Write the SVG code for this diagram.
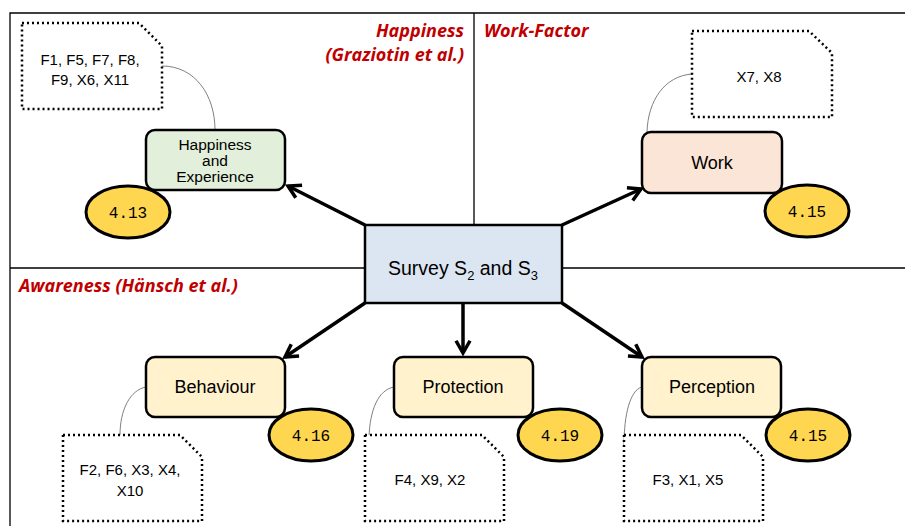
<svg xmlns="http://www.w3.org/2000/svg" width="905" height="526" viewBox="0 0 905 526">
<defs>
<style>
.frame{stroke:#000;stroke-width:1.3;fill:none}
.node{stroke:#000;stroke-width:2.5}
.lbl{font-family:"Liberation Sans","Open Sans",sans-serif;fill:#000;text-anchor:middle}
.title{font-family:"Open Sans","Liberation Sans",sans-serif;font-weight:bold;font-style:italic;fill:#c00000;font-size:18px}
.note{fill:#fff;stroke:#000;stroke-width:2.5;stroke-dasharray:2 3}
.score{fill:#ffd650;stroke:#000;stroke-width:3}
.num{font-family:"Liberation Mono","DejaVu Sans Mono",monospace;font-size:16px;text-anchor:middle}
.lead{fill:none;stroke:#808080;stroke-width:1}
.arrow{stroke:#000;stroke-width:3.5;fill:none;marker-end:url(#ah)}
</style>
<marker id="ah" viewBox="0 0 10 10" refX="8" refY="5" markerWidth="5" markerHeight="5" orient="auto" markerUnits="strokeWidth">
<path d="M1,1 L8,5 L1,9" fill="none" stroke="#000" stroke-width="2"/>
</marker>
</defs>
<rect width="905" height="526" fill="#fff"/>
<g id="frame">
<path class="frame" d="M905,13 H10 V526 M474,13 V225 M10,268 H365 M562,268 H905"/>
</g>
<g id="titles">
<text class="title" x="464" y="37" text-anchor="end">Happiness</text>
<text class="title" x="464" y="61" text-anchor="end">(Graziotin et al.)</text>
<text class="title" x="484" y="37">Work-Factor</text>
<text class="title" x="19" y="292">Awareness (Hänsch et al.)</text>
</g>
<g id="connectors">
<path class="arrow" d="M365,225 L288,186"/>
<path class="arrow" d="M562,225 L641,189"/>
<path class="arrow" d="M365,303 L285,357"/>
<path class="arrow" d="M463,303 L463,353"/>
<path class="arrow" d="M562,303 L642,357"/>
<path class="lead" d="M162,66 C195,66 215,95 215,130"/>
<path class="lead" d="M692,74 C665,76 648,100 647,132"/>
<path class="lead" d="M146,387 C130,390 120,410 120,435"/>
<path class="lead" d="M394,387 C378,390 370,410 369,437"/>
<path class="lead" d="M642,387 C630,390 624,415 624,445"/>
</g>
<g id="survey">
<rect x="365" y="225" width="197" height="78" fill="#dce6f2" class="node"/>
<text class="lbl" x="463" y="275" font-size="19.5">Survey S<tspan font-size="13" dy="5">2</tspan><tspan dy="-5"> and S</tspan><tspan font-size="13" dy="5">3</tspan></text>
</g>
<g id="happiness">
<path class="note" d="M22,23 H139 L162,46 V109 H22 Z"/>
<text class="lbl" x="90" y="65" font-size="15">F1, F5, F7, F8,</text>
<text class="lbl" x="90" y="85" font-size="15">F9, X6, X11</text>
<rect class="node" x="146" y="130" width="139" height="60" rx="9" fill="#e2efda"/>
<text class="lbl" x="215" y="150" font-size="15.5">Happiness</text>
<text class="lbl" x="215" y="166" font-size="15.5">and</text>
<text class="lbl" x="215" y="182" font-size="15.5">Experience</text>
<ellipse class="score" cx="128" cy="212" rx="42" ry="26"/>
<text class="num" x="128" y="218">4.13</text>
</g>
<g id="work">
<path class="note" d="M692,31 H809 L832,53 V117 H692 Z"/>
<text class="lbl" x="759" y="82" font-size="15">X7, X8</text>
<rect class="node" x="642" y="132" width="140" height="61" rx="9" fill="#fbe5d6"/>
<text class="lbl" x="712" y="169" font-size="18">Work</text>
<ellipse class="score" cx="807" cy="211" rx="42" ry="26"/>
<text class="num" x="807" y="217">4.15</text>
</g>
<g id="behaviour">
<path class="note" d="M63,435 H180 L202,457 V521 H63 Z"/>
<text class="lbl" x="130" y="475" font-size="15">F2, F6, X3, X4,</text>
<text class="lbl" x="130" y="496" font-size="15">X10</text>
<rect class="node" x="146" y="357" width="139" height="60" rx="9" fill="#fff2cc"/>
<text class="lbl" x="215" y="393" font-size="18">Behaviour</text>
<ellipse class="score" cx="311" cy="435" rx="42" ry="26"/>
<text class="num" x="311" y="441">4.16</text>
</g>
<g id="protection">
<path class="note" d="M365,435 H482 L504,457 V521 H365 Z"/>
<text class="lbl" x="430" y="485" font-size="15">F4, X9, X2</text>
<rect class="node" x="394" y="357" width="139" height="60" rx="9" fill="#fff2cc"/>
<text class="lbl" x="463" y="393" font-size="18">Protection</text>
<ellipse class="score" cx="560" cy="435" rx="42" ry="26"/>
<text class="num" x="560" y="441">4.19</text>
</g>
<g id="perception">
<path class="note" d="M624,435 H741 L763,457 V521 H624 Z"/>
<text class="lbl" x="688" y="485" font-size="15">F3, X1, X5</text>
<rect class="node" x="642" y="357" width="139" height="60" rx="9" fill="#fff2cc"/>
<text class="lbl" x="712" y="393" font-size="18">Perception</text>
<ellipse class="score" cx="808" cy="435" rx="42" ry="26"/>
<text class="num" x="808" y="441">4.15</text>
</g>
</svg>
